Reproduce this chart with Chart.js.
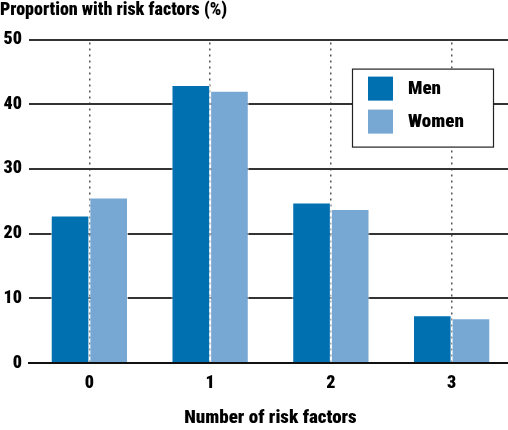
<!DOCTYPE html>
<html>
<head>
<meta charset="utf-8">
<script src="https://cdn.jsdelivr.net/npm/chart.js@4/dist/chart.umd.min.js"></script>
<style>
html,body{margin:0;padding:0;background:#fff;overflow:hidden;width:508px;height:430px;}
#wrap{position:absolute;left:0;top:0;width:512px;height:430px;}
</style>
</head>
<body>
<div id="wrap"><canvas id="c"></canvas></div>
<script>
const categories = ['0', '1', '2', '3'];
const menValues = [22.8, 43.0, 24.8, 7.4];
const womenValues = [25.6, 42.1, 23.8, 6.9];
const seriesNames = ['Men', 'Women'];
const yTicks = [0, 10, 20, 30, 40, 50];
const chartTitle = 'Proportion with risk factors (%)';
const xTitle = 'Number of risk factors';

const FONT = "'Liberation Sans Narrow', 'Roboto Condensed', 'DejaVu Sans Condensed', 'Liberation Sans', sans-serif";
const W = '900';
const MEN = '#0070b0';
const WOMEN = '#77a7d3';

const boxLegend = {
  id: 'boxLegend',
  afterDatasetsDraw(chart) {
    const ctx = chart.ctx;
    const a = chart.chartArea;
    const x0 = a.right - 160, y0 = a.top + 29, w = 141, h = 78;
    ctx.save();
    ctx.fillStyle = '#fff';
    ctx.fillRect(x0, y0, w, h);
    ctx.strokeStyle = '#222';
    ctx.lineWidth = 1.2;
    ctx.strokeRect(x0 + 0.5, y0 + 0.5, w, h);
    ctx.font = W + " 19px " + FONT;
    ctx.textBaseline = 'middle';
    chart.data.datasets.forEach((ds, i) => {
      const sy = y0 + 8 + i * 33;
      ctx.fillStyle = ds.backgroundColor;
      ctx.fillRect(x0 + 16, sy, 25, 24);
      ctx.fillStyle = '#000';
      ctx.fillText(ds.label, x0 + 56, sy + 13);
    });
    ctx.restore();
  }
};

new Chart(document.getElementById('c'), {
  type: 'bar',
  data: {
    labels: categories,
    datasets: [
      { label: seriesNames[0], data: menValues, backgroundColor: MEN, borderColor: 'rgba(255,255,255,0.7)', borderWidth: 1 },
      { label: seriesNames[1], data: womenValues, backgroundColor: WOMEN, borderColor: 'rgba(255,255,255,0.7)', borderWidth: 1 }
    ]
  },
  options: {
    responsive: true,
    maintainAspectRatio: false,
    animation: false,
    layout: { padding: 0 },
    datasets: { bar: { categoryPercentage: 0.64, barPercentage: 1.0 } },
    plugins: {
      legend: { display: false },
      tooltip: { enabled: false },
      title: {
        display: true,
        text: chartTitle,
        align: 'start',
        color: '#000',
        font: { family: FONT, size: 18, weight: W, lineHeight: 1.2 },
        padding: { top: 0, bottom: 18 }
      }
    },
    scales: {
      x: {
        afterFit(scale) { scale.height = 67; },
        grid: { display: true, offset: false, color: '#555', lineWidth: 1.5, drawTicks: false },
        border: { display: true, color: '#111', width: 2, dash: [2, 4], dashOffset: -3 },
        ticks: { color: '#000', padding: 10, font: { family: FONT, size: 18, weight: W } },
        title: { display: true, text: xTitle, color: '#000', padding: { top: 8, bottom: 0 },
                 font: { family: FONT, size: 19, weight: W } }
      },
      y: {
        min: 0, max: 50,
        afterBuildTicks(scale) { scale.ticks = yTicks.map(v => ({ value: v })); },
        afterFit(scale) { scale.width = 29; },
        grid: { color: '#333', lineWidth: 2, drawTicks: false },
        border: { display: false },
        ticks: { color: '#000', padding: 7, font: { family: FONT, size: 18, weight: W } }
      }
    }
  },
  plugins: [boxLegend]
});
</script>
</body>
</html>
